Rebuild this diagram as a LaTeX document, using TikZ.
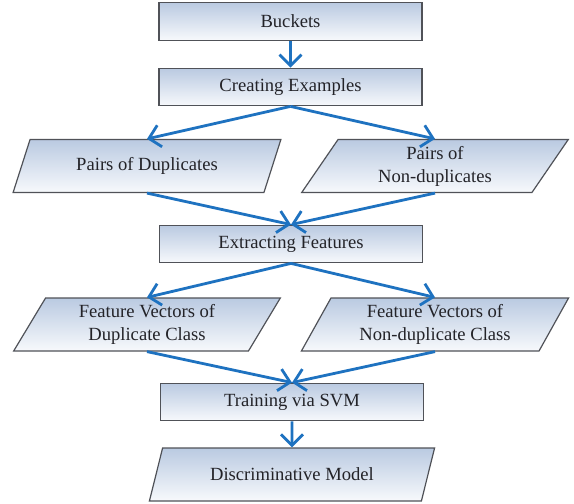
\documentclass[tikz,border=0pt]{standalone}
\usepackage{fontspec}
\setmainfont{Liberation Serif}
\usetikzlibrary{arrows.meta, positioning, calc, shapes.geometric}
\definecolor{flowBlue}{RGB}{30,114,192}
\definecolor{boxEdge}{RGB}{80,82,88}
\definecolor{boxTop}{RGB}{186,202,225}
\definecolor{boxBot}{RGB}{247,249,252}
\definecolor{labelInk}{RGB}{35,35,40}

\begin{document}
\begin{tikzpicture}[
    x=0.5pt, y=-0.5pt,
    every node/.style={font=\fontsize{9.3}{11.5}\selectfont, text=labelInk},
    proc/.style={draw=boxEdge, line width=0.6pt,
                 top color=boxTop, bottom color=boxBot,
                 minimum width=131.5pt, minimum height=18.8pt,
                 inner sep=2pt, align=center},
    data/.style={trapezium, trapezium left angle=63.4,
                 trapezium right angle=116.6, trapezium stretches=true,
                 draw=boxEdge, line width=0.6pt,
                 top color=boxTop, bottom color=boxBot,
                 minimum width=134pt, minimum height=26.5pt,
                 inner sep=1pt, align=center},
    flow/.style={-{Straight Barb[length=5.5pt, width=11pt]},
                 draw=flowBlue, line width=1.4pt}
]
\useasboundingbox (0,0) rectangle (574,504);

% process boxes
\node[proc] (buckets) at (290.5,21.5) {Buckets};
\node[proc] (creating) at (290.5,87) {Creating Examples};
\node[proc] (extract) at (291,244) {Extracting Features};
\node[proc] (train) at (292,402) {Training via SVM};

% data boxes
\node[data] (pdup) at (147,166) {Pairs of Duplicates};
\node[data] (pnon) at (435,166) {Pairs of\\Non-duplicates};
\node[data] (fvdup) at (147,324.5) {Feature Vectors of\\Duplicate Class};
\node[data] (fvnon) at (435,324.5) {Feature Vectors of\\Non-duplicate Class};
\node[data, minimum width=143pt] (model) at (292,474.5) {Discriminative Model};

% connectors
\draw[flow] (buckets.south) -- (creating.north);
\draw[flow] (creating.south) -- (pdup.center |- pdup.north);
\draw[flow] (creating.south) -- (pnon.center |- pnon.north);
\draw[flow] (pdup.center |- pdup.south) -- (extract.north);
\draw[flow] (pnon.center |- pnon.south) -- (extract.north);
\draw[flow] (extract.south) -- (fvdup.center |- fvdup.north);
\draw[flow] (extract.south) -- (fvnon.center |- fvnon.north);
\draw[flow] (fvdup.center |- fvdup.south) -- (train.north);
\draw[flow] (fvnon.center |- fvnon.south) -- (train.north);
\draw[flow] (train.south) -- (model.north);

\end{tikzpicture}
\end{document}
